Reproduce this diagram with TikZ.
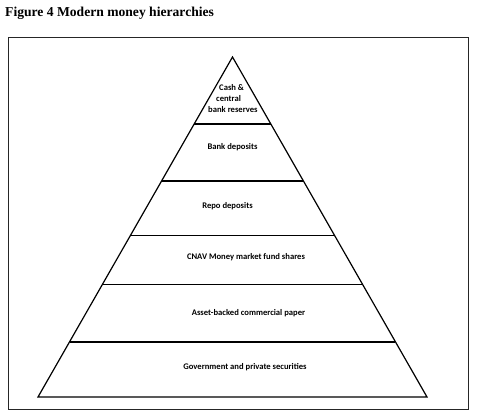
\documentclass[tikz,border=0pt]{standalone}
\usepackage{fontspec}
\setmainfont{Liberation Serif}
\newfontfamily\lblfont{Carlito}
\usetikzlibrary{calc}
\begin{document}
\begin{tikzpicture}[x=1pt,y=-1pt,
  lbl/.style={font=\lblfont\bfseries\fontsize{8.6}{10}\selectfont, inner sep=0pt},
  tier/.style={line width=1.2pt, black},
  frame/.style={line width=1pt, black!85}]
\useasboundingbox (0,0) rectangle (479,419);
\fill[white] (0,0) rectangle (479,419);
\node[font=\bfseries\fontsize{13.6}{15}\selectfont, anchor=west, inner sep=0pt] (title) at (5,13) {Figure 4 Modern money hierarchies};
\draw[frame] (8,38) rectangle (468,409);
\coordinate (A) at (232.5,57);
\coordinate (BL) at (38,397);
\coordinate (BR) at (427,397);
\draw[tier, line join=miter] (BL) -- (A) -- (BR) -- cycle;
\foreach \t in {0.197,0.365,0.526,0.668,0.838}{
  \draw[tier] ($(A)!\t!(BL)$) -- ($(A)!\t!(BR)$);
}
\node[lbl, anchor=west] (c1) at (219,88) {Cash \&};
\node[lbl, anchor=west] (c2) at (216,99) {central};
\node[lbl, anchor=west] (c3) at (208,110) {bank reserves};
\node[lbl] (bd) at (232.5,147) {Bank deposits};
\node[lbl] (rd) at (227.5,206) {Repo deposits};
\node[lbl] (mm) at (246,257) {CNAV Money market fund shares};
\node[lbl] (ab) at (248.5,313) {Asset-backed commercial paper};
\node[lbl] (gp) at (245,367) {Government and private securities};
\end{tikzpicture}
\end{document}
